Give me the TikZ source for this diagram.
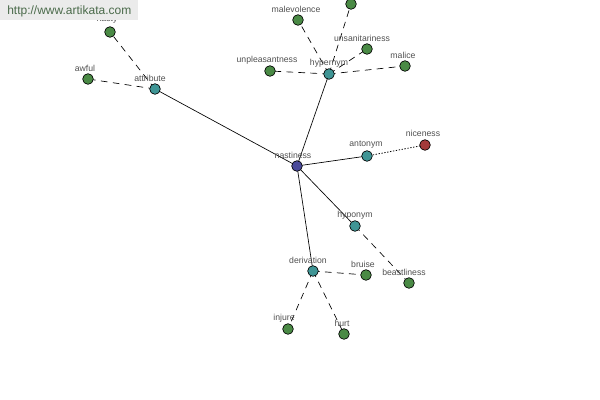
\documentclass[tikz,border=0pt]{standalone}
\usepackage{fontspec}
\setmainfont{Liberation Sans}
\usetikzlibrary{backgrounds}
\definecolor{gnode}{HTML}{4A8A45}
\definecolor{tnode}{HTML}{3F9595}
\definecolor{bnode}{HTML}{4A4A9A}
\definecolor{rnode}{HTML}{A33A3A}
\definecolor{lbl}{HTML}{505050}
\definecolor{urlbg}{HTML}{EBEBEB}
\definecolor{urltx}{HTML}{4A6A4A}
\tikzset{
  vtx/.style={circle,draw=black,line width=0.5pt,inner sep=0pt,minimum size=8pt},
  gv/.style={vtx,fill=gnode},
  tv/.style={vtx,fill=tnode},
  bv/.style={vtx,fill=bnode},
  rv/.style={vtx,fill=rnode},
  lab/.style={text=lbl,font=\fontsize{6.5}{7.5}\selectfont,inner sep=0pt},
  solidedge/.style={draw=black,line width=0.5pt},
  dashedge/.style={draw=black,line width=0.5pt,dash pattern=on 5pt off 4pt},
  dotedge/.style={draw=black,line width=0.6pt,dash pattern=on 1pt off 1.2pt},
}
\begin{document}
\begin{tikzpicture}[x=0.75pt,y=-0.75pt]
\useasboundingbox (0,0) rectangle (600,400);
% nodes
\node[bv] (nastiness) at (297,166) {};
\node[tv] (attribute) at (155,89) {};
\node[gv] (nasty) at (110,32) {};
\node[gv] (awful) at (88,79) {};
\node[tv] (hypernym) at (329,74) {};
\node[gv] (malevolence) at (298,20) {};
\node[gv] (topnode) at (351,4) {};
\node[gv] (unsanitariness) at (367,49) {};
\node[gv] (malice) at (405,66) {};
\node[gv] (unpleasantness) at (270,71) {};
\node[tv] (antonym) at (367,156) {};
\node[rv] (niceness) at (425,145) {};
\node[tv] (hyponym) at (355,226) {};
\node[gv] (beastliness) at (409,283) {};
\node[tv] (derivation) at (313,271) {};
\node[gv] (bruise) at (366,275) {};
\node[gv] (injure) at (288,329) {};
\node[gv] (hurt) at (344,334) {};
% labels
\node[lab] (l-nastiness) at (293,155) {nastiness};
\node[lab] (l-attribute) at (150,78) {attribute};
\node[lab] (l-nasty) at (107,20) {nasty};
\node[lab] (l-awful) at (85,68) {awful};
\node[lab] (l-hypernym) at (329,63) {hypernym};
\node[lab] (l-malevolence) at (296,9) {malevolence};
\node[lab] (l-unsanitariness) at (362,38) {unsanitariness};
\node[lab] (l-malice) at (403,55) {malice};
\node[lab] (l-unpleasantness) at (267,60) {unpleasantness};
\node[lab] (l-antonym) at (366,145) {antonym};
\node[lab] (l-niceness) at (423,133) {niceness};
\node[lab] (l-hyponym) at (355,215) {hyponym};
\node[lab] (l-beastliness) at (404,272) {beastliness};
\node[lab] (l-derivation) at (308,260) {derivation};
\node[lab] (l-bruise) at (363,264) {bruise};
\node[lab] (l-injure) at (284,318) {injure};
\node[lab] (l-hurt) at (342,323) {hurt};
% edges
\begin{scope}[on background layer]
\path[solidedge] (nastiness.center) -- (attribute.center);
\path[solidedge] (nastiness.center) -- (hypernym.center);
\path[solidedge] (nastiness.center) -- (antonym.center);
\path[solidedge] (nastiness.center) -- (hyponym.center);
\path[solidedge] (nastiness.center) -- (derivation.center);
\path[dashedge] (attribute.center) -- (nasty.center);
\path[dashedge] (attribute.center) -- (awful.center);
\path[dashedge] (hypernym.center) -- (malevolence.center);
\path[dashedge] (hypernym.center) -- (topnode.center);
\path[dashedge] (hypernym.center) -- (unsanitariness.center);
\path[dashedge] (hypernym.center) -- (malice.center);
\path[dashedge] (hypernym.center) -- (unpleasantness.center);
\path[dotedge] (antonym.center) -- (niceness.center);
\path[dashedge] (hyponym.center) -- (beastliness.center);
\path[dashedge] (derivation.center) -- (bruise.center);
\path[dashedge] (derivation.center) -- (injure.center);
\path[dashedge] (derivation.center) -- (hurt.center);
\end{scope}
% url banner
\node[fill=urlbg,minimum width=103.5pt,minimum height=15pt,inner sep=0pt,anchor=north west] (urlbox) at (0,0) {};
\node[text=urltx,font=\fontsize{9}{10}\selectfont,anchor=west,inner sep=0pt] (url) at (7,11) {http://www.artikata.com};
\end{tikzpicture}
\end{document}
